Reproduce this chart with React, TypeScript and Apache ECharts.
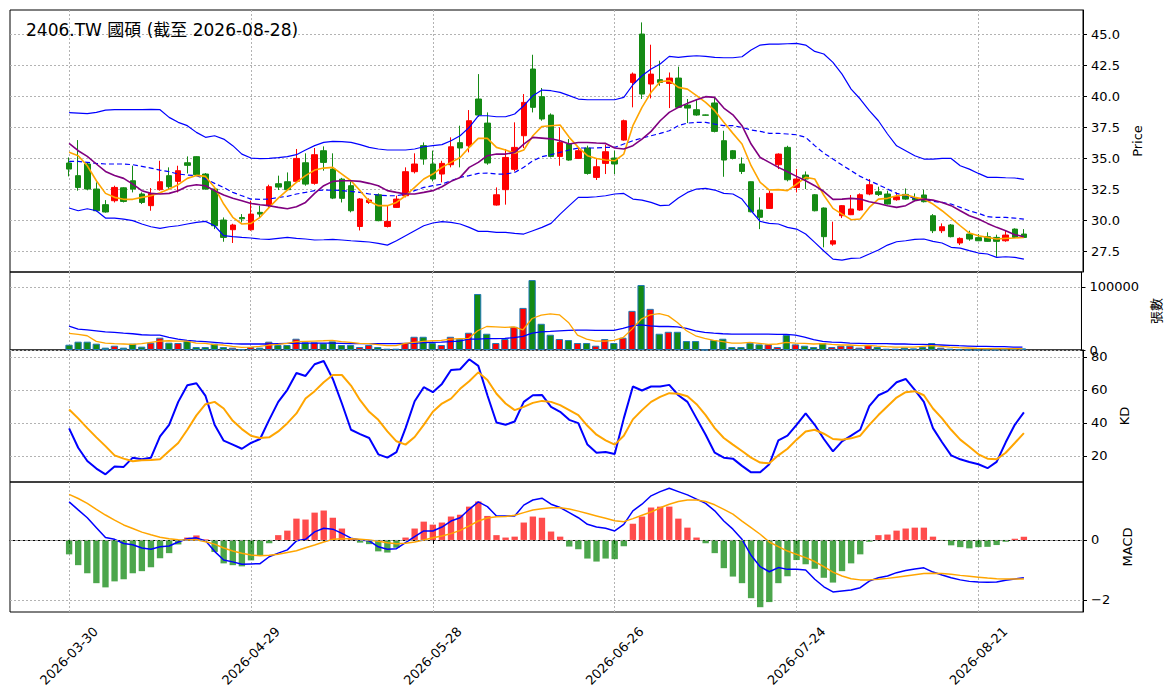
import React, { useEffect, useRef } from 'react';
import * as echarts from 'echarts';

// ---------- categories ----------
const HOLIDAYS = ['2026-04-03', '2026-04-06', '2026-05-01', '2026-06-19'];
const START_DATE = '2026-03-30';
const END_DATE = '2026-08-28';

function tradingDays(start: string, end: string, holidays: string[]): string[] {
  const out: string[] = [];
  const d = new Date(start + 'T00:00:00Z');
  const e = new Date(end + 'T00:00:00Z');
  while (d <= e) {
    const wd = d.getUTCDay();
    const s = d.toISOString().slice(0, 10);
    if (wd !== 0 && wd !== 6 && holidays.indexOf(s) < 0) out.push(s);
    d.setUTCDate(d.getUTCDate() + 1);
  }
  return out;
}
const DATES = tradingDays(START_DATE, END_DATE, HOLIDAYS);

// ---------- price (OHLC) ----------
const OPEN = [34.60, 33.58, 34.52, 32.50, 31.24, 31.56, 32.60, 33.17, 32.10, 31.16, 32.45, 33.58, 33.12, 34.62, 35.11, 33.71, 32.50, 30.00, 29.22, 30.20, 29.22, 30.62, 31.16, 32.93, 33.09, 33.12, 34.62, 32.96, 35.59, 34.11, 33.30, 32.77, 29.48, 31.42, 32.04, 29.48, 31.02, 31.96, 33.90, 36.00, 34.52, 33.71, 34.46, 36.24, 35.99, 39.76, 37.82, 31.21, 32.45, 34.09, 36.80, 42.18, 39.95, 38.47, 35.13, 36.13, 34.97, 35.81, 33.44, 34.57, 35.00, 36.45, 41.10, 45.00, 40.97, 41.32, 41.02, 41.45, 39.27, 38.90, 38.48, 39.44, 36.40, 35.59, 34.52, 33.09, 30.81, 30.94, 34.46, 35.86, 32.63, 33.63, 32.04, 30.97, 28.06, 30.35, 30.43, 30.81, 32.10, 32.28, 32.10, 31.64, 32.07, 31.77, 32.02, 30.35, 29.14, 29.60, 28.15, 28.87, 28.58, 28.66, 28.60, 28.33, 29.27, 28.87];
const CLOSE = [34.11, 32.63, 32.50, 30.75, 30.65, 32.63, 31.50, 32.50, 31.42, 32.15, 33.09, 32.69, 33.98, 34.41, 33.66, 32.50, 29.54, 28.60, 29.60, 30.10, 30.48, 30.48, 32.69, 32.66, 32.45, 34.97, 32.90, 35.27, 34.65, 31.77, 31.75, 30.75, 31.70, 31.61, 29.95, 29.89, 31.69, 33.90, 34.52, 34.92, 33.31, 34.57, 35.91, 35.81, 38.01, 38.47, 34.60, 32.04, 35.05, 35.86, 39.49, 39.09, 38.15, 35.13, 36.26, 34.84, 35.59, 33.76, 34.30, 35.51, 34.52, 38.01, 41.77, 40.16, 41.77, 41.10, 41.45, 39.09, 39.03, 38.47, 38.45, 37.15, 34.84, 34.97, 33.92, 30.67, 30.22, 32.15, 35.32, 33.25, 33.31, 33.31, 30.75, 28.66, 28.33, 31.16, 30.89, 32.04, 32.85, 32.07, 31.29, 31.88, 31.69, 31.61, 31.48, 29.14, 29.46, 28.66, 28.52, 28.47, 28.33, 28.28, 28.28, 28.79, 28.60, 28.60];
const LOW = [33.52, 32.37, 32.40, 30.70, 30.60, 31.42, 31.42, 32.23, 31.29, 30.75, 32.37, 32.50, 32.23, 33.76, 33.60, 32.45, 29.27, 28.25, 28.15, 29.81, 29.14, 30.16, 30.97, 32.42, 32.40, 33.04, 32.77, 32.85, 33.98, 31.69, 31.42, 30.62, 29.16, 31.30, 29.90, 29.40, 30.97, 31.83, 33.76, 34.46, 33.12, 33.04, 34.25, 34.25, 35.46, 38.33, 34.46, 31.16, 31.24, 33.92, 35.81, 38.68, 38.01, 35.05, 34.38, 34.78, 34.92, 33.66, 33.23, 33.71, 33.71, 36.40, 39.09, 39.76, 39.81, 40.83, 39.03, 39.03, 37.82, 38.41, 38.42, 37.07, 33.49, 34.89, 33.71, 30.62, 29.27, 30.89, 34.11, 33.12, 32.23, 32.50, 30.70, 27.80, 27.93, 30.16, 30.40, 30.75, 32.00, 31.94, 31.25, 31.56, 31.64, 31.56, 31.42, 28.95, 28.95, 28.60, 27.98, 28.33, 28.30, 28.25, 27.04, 28.25, 28.55, 28.55];
const HIGH = [35.05, 36.45, 34.60, 33.04, 31.61, 32.77, 32.65, 34.38, 32.23, 32.58, 34.78, 34.25, 34.38, 35.13, 35.15, 33.79, 32.55, 30.21, 29.70, 30.48, 31.56, 31.16, 32.85, 33.58, 33.84, 35.73, 35.38, 35.81, 35.94, 35.38, 33.40, 33.12, 31.77, 31.75, 32.15, 31.21, 31.96, 34.25, 35.38, 36.26, 35.60, 34.78, 36.67, 37.61, 38.87, 41.77, 38.68, 32.63, 35.73, 37.88, 40.16, 43.33, 40.65, 38.60, 37.47, 36.53, 35.86, 36.00, 34.92, 36.08, 35.59, 38.10, 41.90, 45.94, 44.14, 42.85, 41.90, 42.37, 39.76, 39.68, 38.51, 39.84, 37.20, 35.65, 35.05, 33.12, 31.83, 32.37, 35.38, 35.99, 34.11, 33.92, 32.10, 31.02, 29.87, 31.21, 32.02, 32.15, 33.31, 32.69, 32.37, 32.23, 32.55, 32.15, 32.45, 30.48, 29.73, 29.68, 28.60, 29.14, 28.87, 29.01, 28.82, 29.14, 29.33, 29.27];

// ---------- price overlays ----------
const BB_UPPER = [38.66, 38.63, 38.58, 38.68, 38.87, 38.90, 38.90, 38.90, 38.90, 38.92, 38.90, 38.28, 37.88, 37.61, 37.07, 36.67, 36.80, 36.53, 36.00, 35.32, 35.00, 34.95, 34.97, 35.03, 35.11, 35.27, 35.65, 36.00, 36.26, 36.34, 36.32, 36.26, 36.08, 35.86, 35.73, 35.65, 35.65, 35.65, 35.73, 35.91, 36.00, 36.08, 36.40, 36.80, 37.47, 38.41, 38.41, 38.33, 38.33, 38.55, 39.22, 40.03, 40.48, 40.43, 40.30, 40.03, 39.76, 39.70, 39.70, 39.70, 39.70, 39.89, 40.91, 41.64, 42.18, 42.58, 43.20, 43.12, 43.20, 43.25, 43.20, 43.12, 43.09, 43.09, 43.17, 43.71, 44.11, 44.19, 44.19, 44.22, 44.25, 44.11, 43.60, 43.39, 42.72, 41.77, 40.56, 39.76, 38.82, 38.01, 36.94, 35.99, 35.59, 35.19, 34.92, 34.92, 34.97, 34.97, 34.38, 34.11, 33.76, 33.44, 33.44, 33.41, 33.39, 33.28];
const BB_MID = [34.73, 34.73, 34.65, 34.57, 34.52, 34.52, 34.52, 34.46, 34.33, 34.19, 34.03, 33.90, 33.71, 33.63, 33.58, 33.31, 32.96, 32.63, 32.23, 31.96, 31.69, 31.67, 31.69, 31.83, 31.91, 32.10, 32.23, 32.37, 32.42, 32.42, 32.37, 32.31, 32.23, 32.10, 32.02, 31.96, 31.96, 32.10, 32.37, 32.63, 32.77, 32.90, 33.17, 33.44, 33.58, 33.76, 33.79, 33.71, 33.71, 33.84, 34.25, 34.78, 35.11, 35.27, 35.46, 35.65, 35.81, 35.81, 35.81, 35.86, 35.86, 36.13, 36.40, 36.61, 36.80, 36.99, 37.20, 37.61, 37.82, 37.88, 37.88, 37.74, 37.61, 37.61, 37.47, 37.26, 37.15, 36.99, 36.99, 36.94, 36.88, 36.67, 36.00, 35.40, 34.92, 34.44, 33.98, 33.52, 33.17, 32.85, 32.50, 32.15, 31.96, 31.75, 31.64, 31.51, 31.42, 31.29, 31.02, 30.75, 30.54, 30.27, 30.22, 30.22, 30.16, 30.08];
const BB_LOWER = [30.97, 30.75, 30.91, 30.75, 30.16, 30.16, 30.08, 29.95, 29.68, 29.46, 29.33, 29.46, 29.54, 29.68, 29.81, 29.89, 29.54, 28.74, 28.66, 28.60, 28.55, 28.47, 28.44, 28.52, 28.60, 28.52, 28.47, 28.39, 28.41, 28.44, 28.39, 28.33, 28.28, 28.23, 28.12, 27.98, 28.33, 28.74, 29.14, 29.54, 29.76, 29.87, 29.81, 29.68, 29.41, 29.09, 29.09, 29.01, 29.01, 28.92, 28.87, 29.14, 29.41, 29.73, 30.48, 31.16, 31.83, 31.83, 31.88, 31.96, 32.10, 32.15, 31.69, 31.61, 31.42, 31.16, 31.21, 31.77, 32.23, 32.50, 32.55, 32.42, 32.15, 32.10, 31.69, 30.75, 29.89, 29.73, 29.68, 29.41, 29.27, 28.87, 28.20, 27.50, 26.85, 26.77, 26.91, 26.94, 27.26, 27.58, 27.98, 28.25, 28.33, 28.44, 28.47, 28.28, 28.15, 27.80, 27.74, 27.53, 27.34, 27.26, 26.99, 27.04, 26.99, 26.85];
const MA_SHORT = [35.46, 35.19, 34.38, 33.17, 32.15, 31.83, 31.67, 31.67, 31.83, 31.96, 32.20, 32.50, 32.85, 33.36, 33.60, 33.52, 32.63, 31.29, 30.22, 29.68, 29.73, 30.22, 31.02, 31.77, 32.42, 33.04, 33.58, 34.03, 34.19, 34.25, 33.71, 33.17, 32.37, 31.51, 31.16, 31.16, 31.42, 31.96, 32.63, 33.31, 33.71, 34.25, 34.65, 35.05, 35.86, 36.59, 36.59, 35.86, 35.65, 35.38, 35.65, 36.80, 37.55, 37.61, 37.66, 36.67, 35.86, 35.19, 34.97, 34.84, 34.78, 35.32, 37.61, 39.09, 40.30, 41.16, 41.24, 40.70, 40.56, 40.03, 39.49, 38.82, 37.88, 36.99, 36.13, 34.38, 33.04, 32.42, 32.45, 32.37, 32.90, 33.44, 33.31, 32.00, 30.94, 30.48, 30.03, 30.08, 31.02, 31.69, 31.75, 31.96, 32.04, 31.83, 31.69, 31.29, 30.75, 30.16, 29.54, 28.95, 28.74, 28.60, 28.47, 28.52, 28.55, 28.60];
const MA_LONG = [36.18, 35.59, 35.13, 34.52, 33.92, 33.60, 33.36, 32.90, 32.37, 32.15, 32.10, 32.15, 32.37, 32.72, 32.85, 32.77, 32.37, 32.02, 31.75, 31.56, 31.34, 31.24, 31.16, 31.02, 30.91, 31.08, 31.42, 32.15, 32.77, 33.12, 33.17, 33.17, 33.12, 32.96, 32.77, 32.37, 32.23, 32.10, 32.10, 32.23, 32.37, 32.69, 33.12, 33.44, 34.25, 34.65, 35.19, 35.32, 35.32, 35.46, 36.13, 36.67, 36.61, 36.55, 36.40, 36.13, 36.26, 36.26, 36.21, 36.18, 35.81, 35.73, 36.00, 36.53, 37.15, 38.01, 38.68, 39.09, 39.41, 39.70, 39.95, 39.89, 39.03, 38.49, 37.61, 36.13, 35.05, 34.65, 34.25, 33.90, 33.52, 33.17, 32.77, 32.30, 31.67, 31.69, 31.75, 31.69, 31.48, 31.34, 31.16, 31.02, 31.16, 31.56, 31.69, 31.61, 31.42, 31.16, 30.75, 30.35, 30.08, 29.73, 29.41, 29.14, 28.82, 28.66];

// ---------- volume (張) ----------
const VOLUME = [8400, 13200, 13200, 10000, 3700, 6800, 3700, 10000, 5300, 11600, 19500, 11600, 11100, 14700, 4700, 4700, 10000, 4700, 3700, 1100, 4700, 3700, 13200, 7900, 7900, 17900, 12100, 12100, 10500, 13700, 7900, 7900, 4700, 7900, 4700, 2100, 2100, 11100, 21000, 21000, 11100, 7900, 21000, 17400, 27400, 88900, 25800, 11100, 17400, 36800, 66800, 111000, 41600, 24200, 17400, 15800, 11100, 11100, 6800, 17400, 11100, 19500, 62100, 103100, 65300, 25800, 28900, 28900, 14200, 14200, 500, 15800, 17900, 4700, 4700, 11100, 8900, 8900, 4700, 23700, 8900, 6800, 4700, 11100, 4700, 6800, 6800, 3700, 7900, 4700, 2100, 2100, 3700, 2600, 4700, 11100, 3700, 2100, 1100, 500, 500, 500, 500, 1100, 1600, 2600];
const VOL_MA_SHORT = [26300, 24700, 22600, 13700, 11000, 10000, 9500, 8900, 10000, 12100, 14200, 14700, 14200, 14200, 11000, 10500, 8400, 7900, 5800, 4200, 4700, 5800, 7900, 8900, 10500, 13200, 13700, 14200, 14700, 15300, 13200, 12100, 10500, 10000, 8400, 6800, 6800, 10500, 12100, 13700, 14700, 15300, 17400, 17900, 18400, 30500, 37300, 36800, 35800, 36800, 32100, 50000, 55200, 57300, 55800, 43700, 23700, 17400, 14200, 14200, 15300, 19500, 33100, 48900, 55800, 57900, 54200, 43700, 30500, 22600, 18400, 15300, 13200, 11000, 11000, 12100, 10500, 8900, 9500, 12100, 11000, 10500, 9500, 10000, 8900, 7900, 7900, 6800, 7400, 6300, 5300, 4700, 4700, 4700, 5800, 6800, 5800, 4700, 3700, 3200, 2600, 2100, 2100, 2100, 2100, 2100];
const VOL_MA_LONG = [37900, 33100, 32100, 30500, 28900, 27900, 26800, 25800, 24200, 23700, 23700, 20000, 17400, 15300, 14200, 13200, 12100, 11000, 10000, 9500, 9500, 9500, 9500, 10000, 10500, 10500, 11000, 11000, 11000, 11000, 10500, 10000, 10000, 10000, 10000, 10000, 10000, 10500, 10500, 11600, 12100, 12600, 13200, 14200, 17400, 17400, 17900, 17900, 18400, 19500, 21600, 26800, 28900, 29500, 30500, 31100, 31600, 31600, 31100, 31100, 31100, 34200, 38400, 40000, 38400, 37300, 37300, 36800, 34200, 30500, 27900, 26800, 25800, 25200, 25200, 25200, 25200, 25200, 24700, 24700, 23700, 20500, 16300, 13700, 12600, 12100, 11000, 10500, 10000, 10000, 10000, 9500, 9500, 8900, 8900, 8400, 7900, 7400, 6800, 6300, 5800, 5800, 5300, 5300, 4700, 4700];

// ---------- KD ----------
const K_VALUES = [36.7, 25.0, 17.0, 12.4, 8.9, 13.6, 13.4, 19.0, 18.0, 19.0, 31.9, 38.9, 52.8, 62.9, 64.1, 56.4, 38.9, 29.3, 26.9, 24.4, 27.9, 30.3, 41.9, 52.8, 60.1, 70.3, 68.5, 75.6, 77.6, 66.7, 51.8, 35.9, 33.3, 30.9, 21.0, 19.0, 22.4, 36.9, 53.2, 61.7, 58.7, 63.7, 72.1, 72.6, 78.6, 74.6, 56.8, 40.3, 38.9, 40.9, 52.8, 56.8, 57.0, 49.8, 46.8, 41.9, 39.9, 26.9, 22.0, 22.4, 21.2, 42.8, 62.1, 59.7, 62.1, 62.1, 63.1, 56.8, 52.8, 42.8, 32.9, 22.0, 19.0, 18.4, 14.0, 10.1, 10.1, 15.0, 29.5, 32.3, 38.9, 45.8, 38.9, 30.3, 22.8, 28.9, 32.3, 35.9, 50.2, 56.8, 59.3, 64.7, 66.7, 60.1, 52.8, 36.9, 28.3, 20.4, 18.0, 16.4, 15.0, 12.6, 16.4, 28.3, 38.9, 46.4];
const D_VALUES = [48.2, 42.8, 36.9, 31.3, 26.0, 20.4, 18.4, 16.8, 17.4, 17.6, 18.0, 23.0, 27.9, 35.9, 44.6, 51.4, 52.8, 48.8, 41.3, 36.3, 32.3, 30.9, 31.3, 34.9, 39.9, 45.8, 54.8, 59.3, 64.7, 69.1, 69.1, 62.7, 53.8, 46.8, 41.9, 34.9, 28.9, 26.9, 31.5, 38.9, 46.8, 51.8, 54.8, 60.7, 65.3, 70.7, 66.1, 57.7, 51.8, 47.8, 49.8, 52.2, 53.4, 52.8, 50.8, 47.8, 44.8, 38.3, 32.9, 29.5, 26.9, 32.3, 42.2, 47.8, 52.8, 55.8, 58.1, 57.7, 56.2, 51.4, 44.8, 36.9, 30.9, 26.9, 23.0, 19.0, 16.0, 15.6, 20.4, 24.4, 29.9, 34.9, 35.9, 33.5, 30.3, 29.9, 30.7, 32.3, 38.9, 44.8, 50.2, 55.4, 58.7, 59.3, 56.8, 48.8, 42.8, 35.9, 29.9, 25.6, 21.0, 18.4, 18.0, 22.0, 27.9, 33.9];

// ---------- MACD ----------
const MACD_HIST = [-0.48, -0.84, -1.11, -1.44, -1.58, -1.38, -1.31, -1.11, -1.04, -0.91, -0.61, -0.44, -0.15, 0.08, 0.15, 0.02, -0.40, -0.78, -0.84, -0.88, -0.68, -0.51, -0.11, 0.16, 0.31, 0.71, 0.68, 0.91, 0.98, 0.74, 0.38, 0.03, -0.09, -0.14, -0.38, -0.42, -0.26, 0.08, 0.38, 0.61, 0.51, 0.58, 0.78, 0.84, 1.11, 1.28, 0.80, 0.16, 0.08, 0.11, 0.58, 0.78, 0.74, 0.28, 0.11, -0.22, -0.31, -0.62, -0.72, -0.62, -0.64, -0.21, 0.54, 0.78, 1.08, 1.11, 1.11, 0.71, 0.41, 0.08, -0.11, -0.44, -0.94, -1.22, -1.44, -1.94, -2.24, -2.07, -1.44, -1.21, -0.67, -0.81, -0.96, -1.26, -1.42, -1.04, -0.78, -0.48, -0.06, 0.16, 0.18, 0.31, 0.38, 0.41, 0.41, 0.11, -0.01, -0.18, -0.24, -0.28, -0.24, -0.23, -0.17, -0.06, 0.04, 0.11];
const MACD_DIF = [1.27, 1.00, 0.74, 0.41, 0.08, 0.02, -0.12, -0.16, -0.27, -0.31, -0.23, -0.20, -0.07, 0.04, 0.07, -0.03, -0.38, -0.67, -0.73, -0.81, -0.80, -0.79, -0.56, -0.44, -0.33, -0.03, 0.02, 0.27, 0.39, 0.36, 0.22, 0.06, 0.00, -0.03, -0.23, -0.31, -0.29, -0.09, 0.11, 0.30, 0.30, 0.43, 0.63, 0.74, 1.02, 1.27, 1.11, 0.80, 0.80, 0.80, 1.16, 1.33, 1.39, 1.19, 1.08, 0.91, 0.74, 0.52, 0.43, 0.39, 0.30, 0.52, 0.97, 1.19, 1.47, 1.61, 1.72, 1.61, 1.50, 1.36, 1.22, 0.97, 0.63, 0.36, 0.02, -0.51, -0.89, -1.06, -0.92, -0.98, -0.98, -1.00, -1.31, -1.56, -1.73, -1.70, -1.67, -1.59, -1.37, -1.26, -1.20, -1.09, -1.02, -0.97, -0.93, -1.07, -1.17, -1.26, -1.33, -1.38, -1.40, -1.41, -1.40, -1.34, -1.30, -1.26];
const MACD_DEA = [1.52, 1.38, 1.22, 1.02, 0.83, 0.66, 0.50, 0.38, 0.26, 0.17, 0.09, 0.04, 0.01, 0.00, 0.01, -0.06, -0.14, -0.27, -0.37, -0.44, -0.50, -0.53, -0.51, -0.48, -0.42, -0.36, -0.26, -0.17, -0.07, 0.02, 0.04, 0.04, 0.02, 0.00, -0.04, -0.09, -0.13, -0.11, -0.07, 0.00, 0.07, 0.13, 0.21, 0.32, 0.47, 0.63, 0.73, 0.77, 0.78, 0.82, 0.91, 1.00, 1.04, 1.07, 1.07, 1.03, 0.96, 0.88, 0.80, 0.72, 0.64, 0.61, 0.71, 0.82, 0.93, 1.07, 1.19, 1.28, 1.33, 1.33, 1.28, 1.17, 1.02, 0.86, 0.63, 0.41, 0.19, -0.07, -0.22, -0.37, -0.48, -0.59, -0.72, -0.89, -1.07, -1.20, -1.29, -1.33, -1.33, -1.31, -1.28, -1.24, -1.20, -1.16, -1.12, -1.11, -1.12, -1.14, -1.18, -1.21, -1.24, -1.27, -1.29, -1.30, -1.30, -1.30];

// ---------- ticks ----------
const PRICE_TICKS = [27.5, 30, 32.5, 35, 37.5, 40, 42.5, 45];
const VOLUME_TICKS = [0, 100000];
const KD_TICKS = [20, 40, 60, 80];
const MACD_TICKS = [-2, 0];
const X_LABEL_STEP = 20;

const TITLE = '2406.TW 國碩 (截至 2026-08-28)';

const PAD = 6;
const RED = '#ff0000';
const GREEN = '#148a14';
const GRID_LINE = { color: '#b3b3b3', width: 1, type: [2, 2] as any };
const FONT = '"DejaVu Sans", "Noto Sans CJK TC", sans-serif';

export default function App() {
  const ref = useRef<HTMLDivElement>(null);

  useEffect(() => {
    if (!ref.current) return;
    const chart = echarts.init(ref.current, null, { renderer: 'svg' });
    const N = DATES.length;
    const cats = [
      ...Array.from({ length: PAD }, (_, k) => `pl${k}`),
      ...DATES,
      ...Array.from({ length: PAD }, (_, k) => `pr${k}`),
    ];
    const showIdx = (idx: number) =>
      idx >= PAD && idx - PAD < N && (idx - PAD) % X_LABEL_STEP === 0;
    const pair = (arr: number[]) => arr.map((v, i) => [i + PAD, v]);

    const grids = [
      { top: 10, height: 262 },
      { top: 272, height: 78 },
      { top: 350, height: 132 },
      { top: 482, height: 130 },
    ].map((g) => ({
      left: 10,
      right: 88,
      top: g.top,
      height: g.height,
      show: true,
      borderColor: '#000',
      borderWidth: 1,
      backgroundColor: 'transparent',
    }));

    const xAxes = [0, 1, 2, 3].map((g) => ({
      type: 'category',
      gridIndex: g,
      data: cats,
      boundaryGap: true,
      axisLine: { show: g === 3, lineStyle: { color: '#000', width: 1 } },
      axisTick: {
        show: g === 3,
        alignWithLabel: true,
        interval: (i: number) => showIdx(i),
        length: 4,
        lineStyle: { color: '#000' },
      },
      axisLabel: {
        show: g === 3,
        interval: (i: number) => showIdx(i),
        rotate: 45,
        align: 'center',
        verticalAlign: 'middle',
        margin: 44,
        fontSize: 13,
        color: '#000',
        fontFamily: FONT,
      },
      splitLine: {
        show: true,
        alignWithLabel: true,
        interval: (i: number) => showIdx(i),
        lineStyle: GRID_LINE,
      },
    }));

    const makeY = (
      g: number,
      min: number,
      max: number,
      ticks: number[],
      fmt: (v: number) => string,
      name: string,
      gap: number
    ) => ({
      type: 'value',
      gridIndex: g,
      position: 'right',
      min,
      max,
      name,
      nameLocation: 'middle',
      nameRotate: 90,
      nameGap: gap,
      nameTextStyle: { fontSize: 13, color: '#000', fontFamily: FONT },
      axisLine: { show: true, lineStyle: { color: '#000', width: 1 } },
      axisTick: { show: true, length: 4, customValues: ticks, lineStyle: { color: '#000' } },
      axisLabel: {
        customValues: ticks,
        formatter: fmt,
        fontSize: 13,
        color: '#000',
        margin: 8,
        fontFamily: FONT,
      },
      splitLine: { show: true, lineStyle: GRID_LINE },
    });

    const minus = (v: number) => (v < 0 ? '\u2212' + Math.abs(v) : String(v));

    const yAxes = [
      makeY(0, 25.81, 46.94, PRICE_TICKS, (v) => v.toFixed(1), 'Price', 39),
      makeY(1, 0, 123800, VOLUME_TICKS, (v) => String(v), '張數', 59),
      makeY(2, 4.24, 84.24, KD_TICKS, (v) => String(v), 'KD', 26),
      makeY(3, -2.4, 1.93, MACD_TICKS, minus, 'MACD', 23),
    ];

    const line = (
      name: string,
      data: number[],
      g: number,
      color: string,
      width: number,
      type: any = 'solid'
    ) => ({
      name,
      type: 'line',
      xAxisIndex: g,
      yAxisIndex: g,
      data: pair(data),
      showSymbol: false,
      symbol: 'none',
      lineStyle: { color, width, type },
      itemStyle: { color },
      silent: true,
    });

    const candleData = OPEN.map((o, i) => [i + PAD, o, CLOSE[i], LOW[i], HIGH[i]]);
    const volData = VOLUME.map((v, i) => ({
      value: [i + PAD, v],
      itemStyle: { color: CLOSE[i] >= OPEN[i] ? RED : GREEN },
    }));
    const histData = MACD_HIST.map((v, i) => ({
      value: [i + PAD, v],
      itemStyle: { color: v >= 0 ? 'rgba(255,0,0,0.7)' : 'rgba(0,128,0,0.7)' },
    }));

    chart.setOption({
      animation: false,
      textStyle: { fontFamily: FONT },
      title: {
        text: TITLE,
        left: 26,
        top: 21,
        padding: 0,
        textStyle: { fontSize: 17, fontWeight: 'normal', color: '#000', fontFamily: FONT },
      },
      grid: grids,
      xAxis: xAxes,
      yAxis: yAxes,
      series: [
        {
          name: 'K',
          type: 'candlestick',
          xAxisIndex: 0,
          yAxisIndex: 0,
          data: candleData,
          encode: { x: 0, y: [1, 2, 3, 4] },
          barWidth: 6,
          itemStyle: {
            color: RED,
            color0: GREEN,
            borderColor: RED,
            borderColor0: GREEN,
            borderWidth: 1,
          },
          silent: true,
        },
        line('BB upper', BB_UPPER, 0, '#0000ff', 1.2),
        line('BB mid', BB_MID, 0, '#0000ff', 1.2, [5, 3]),
        line('BB lower', BB_LOWER, 0, '#0000ff', 1.2),
        line('MA short', MA_SHORT, 0, '#ffa500', 1.6),
        line('MA long', MA_LONG, 0, '#800080', 1.6),
        {
          name: 'Volume',
          type: 'bar',
          xAxisIndex: 1,
          yAxisIndex: 1,
          data: volData,
          barWidth: '80%',
          itemStyle: { borderColor: '#1f77b4', borderWidth: 1 },
          silent: true,
        },
        line('Vol MA long', VOL_MA_LONG, 1, '#0000ff', 1.3),
        line('Vol MA short', VOL_MA_SHORT, 1, '#ffa500', 1.3),
        line('K', K_VALUES, 2, '#0000ff', 2),
        line('D', D_VALUES, 2, '#ffa500', 2),
        {
          name: 'MACD hist',
          type: 'bar',
          xAxisIndex: 3,
          yAxisIndex: 3,
          data: histData,
          barWidth: '70%',
          silent: true,
          markLine: {
            silent: true,
            symbol: 'none',
            label: { show: false },
            lineStyle: { color: '#9a9a9a', type: [3, 2], width: 1 },
            data: [{ yAxis: 0 }],
          },
        },
        line('DIF', MACD_DIF, 3, '#0000ff', 1.5),
        line('DEA', MACD_DEA, 3, '#ffa500', 1.5),
      ],
    });
    return () => chart.dispose();
  }, []);

  return (
    <div
      ref={ref}
      style={{ position: 'absolute', left: 0, top: 0, width: '1171px', height: '698px', background: '#fff' }}
    />
  );
}
